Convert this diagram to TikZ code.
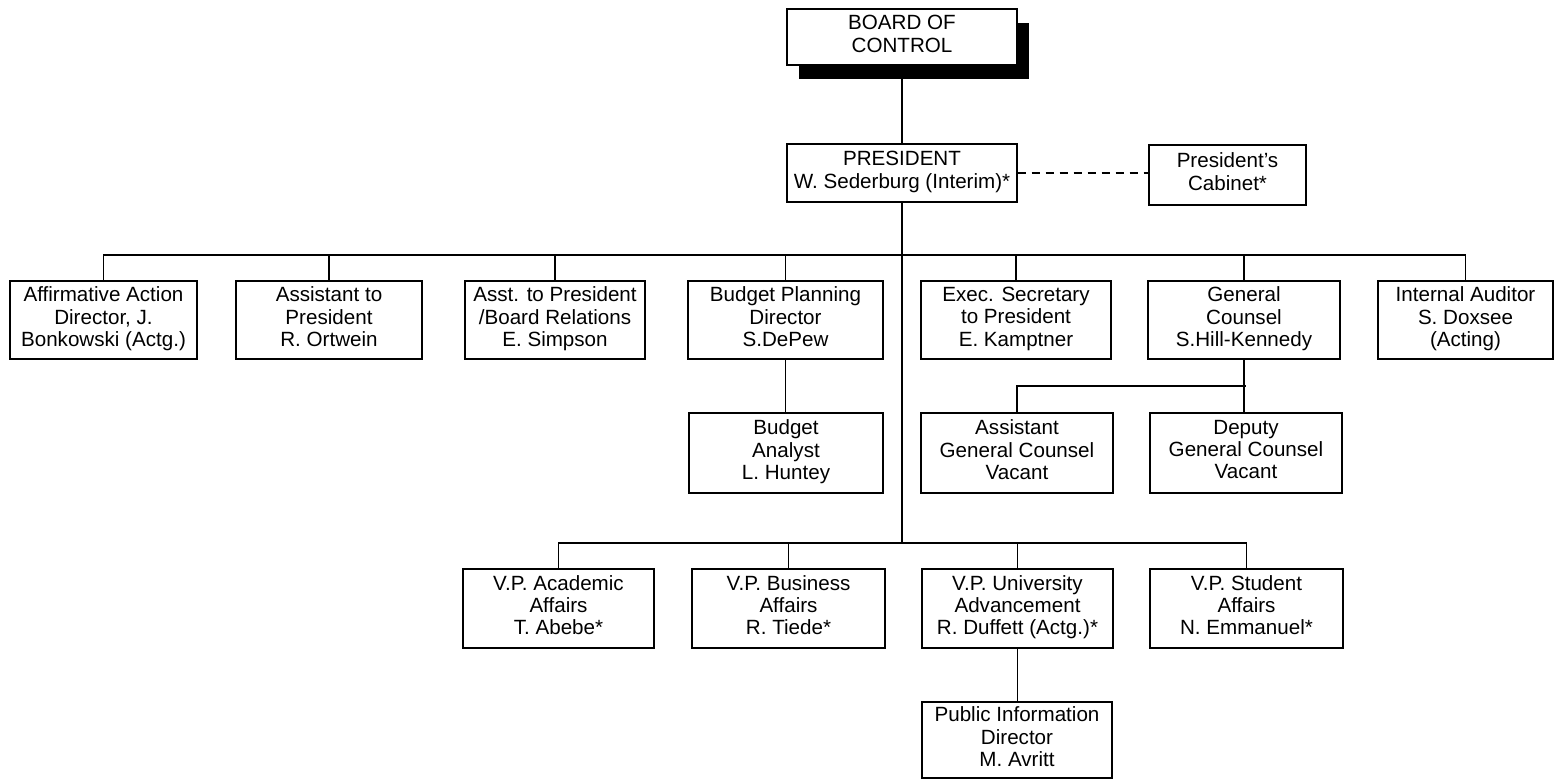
\documentclass[tikz,border=0pt]{standalone}
\usepackage{fontspec}
\setmainfont{Liberation Sans}
\usetikzlibrary{shadows}
\begin{document}
\begin{tikzpicture}[x=0.5pt,y=-0.5pt,
  every node/.style={font=\fontsize{10.3}{11.1}\selectfont},
  box/.style={draw, line width=0.6pt, fill=white, align=center, inner sep=0pt,
    execute at begin node=\rule{0pt}{10.2pt}, execute at end node=\strut},
  conn/.style={line width=0.6pt},
  dashconn/.style={line width=0.9pt, dash pattern=on 4pt off 3pt}]
\useasboundingbox (0,0) rectangle (1556,780);
% top
\node[box, minimum width=115pt, minimum height=28pt,
  drop shadow={shadow xshift=6pt, shadow yshift=-7pt, fill=black, opacity=1},
  font=\fontsize{10.3}{11.6}\selectfont] (board) at (902,37) {BOARD OF\\CONTROL};
\node[box, minimum width=115pt, minimum height=29pt,
  font=\fontsize{10.3}{11.6}\selectfont] (pres) at (902,173) {PRESIDENT\\W. Sederburg (Interim)*};
\node[box, minimum width=78.5pt, minimum height=30pt,
  font=\fontsize{10.3}{11.6}\selectfont] (cab) at (1227.5,175) {President's\\Cabinet*};
% row 1
\node[box, minimum width=93.5pt, minimum height=39pt] (aa) at (103.5,320) {Affirmative Action\\Director, J.\\Bonkowski (Actg.)};
\node[box, minimum width=93pt, minimum height=39pt] (ap) at (329,320) {Assistant to\\President\\R. Ortwein};
\node[box, minimum width=90pt, minimum height=39pt] (abr) at (555,320) {Asst. to President\\/Board Relations\\E. Simpson};
\node[box, minimum width=97.5pt, minimum height=39pt] (bp) at (785.5,320) {Budget Planning\\Director\\S.DePew};
\node[box, minimum width=95pt, minimum height=39pt] (es) at (1016,320) {Exec. Secretary\\to President\\E. Kamptner};
\node[box, minimum width=96pt, minimum height=39pt] (gc) at (1244,320) {General\\Counsel\\S.Hill-Kennedy};
\node[box, minimum width=87.5pt, minimum height=39pt] (ia) at (1465.5,320) {Internal Auditor\\S. Doxsee\\(Acting)};
% row 2
\node[box, minimum width=97pt, minimum height=40pt] (ba) at (786,453) {Budget\\Analyst\\L. Huntey};
\node[box, minimum width=96pt, minimum height=40pt] (agc) at (1017,453) {Assistant\\General Counsel\\Vacant};
\node[box, minimum width=96pt, minimum height=40pt] (dgc) at (1246,453) {Deputy\\General Counsel\\Vacant};
% VP row
\node[box, minimum width=95.5pt, minimum height=39.5pt] (vpa) at (558.5,608.5) {V.P. Academic\\Affairs\\T. Abebe*};
\node[box, minimum width=96.5pt, minimum height=39.5pt] (vpb) at (788.5,608.5) {V.P. Business\\Affairs\\R. Tiede*};
\node[box, minimum width=95.5pt, minimum height=39.5pt] (vpu) at (1017.5,608.5) {V.P. University\\Advancement\\R. Duffett (Actg.)*};
\node[box, minimum width=96.5pt, minimum height=39.5pt] (vps) at (1246.5,608.5) {V.P. Student\\Affairs\\N. Emmanuel*};
% bottom
\node[box, minimum width=95pt, minimum height=38pt] (pi) at (1017,740) {Public Information\\Director\\M. Avritt};
% bus coordinates
\coordinate (b1) at (902,255);
\coordinate (b2) at (902,543);
\coordinate (b3) at (1246,386);
% connectors
\draw[conn] (board) -- (pres);
\draw[dashconn] (pres.east) -- (cab.west |- pres.east);
\draw[conn] (pres.south) -- (b2);
\draw[conn] (aa.north) |- (b1) -| (ia.north);
\foreach \n in {ap,abr,bp,es,gc} \draw[conn] (\n.north) -- (\n.north |- b1);
\draw[conn] (bp.south) -- (ba.north -| bp.south);
\draw[conn] (gc.south) -- (dgc.north -| gc.south);
\draw[conn] (agc.north) |- (b3);
\draw[conn] (vpa.north) |- (b2) -| (vps.north);
\draw[conn] (vpb.north) -- (vpb.north |- b2);
\draw[conn] (vpu.north) -- (vpu.north |- b2);
\draw[conn] (vpu.south) -- (pi.north -| vpu.south);
\end{tikzpicture}
\end{document}
